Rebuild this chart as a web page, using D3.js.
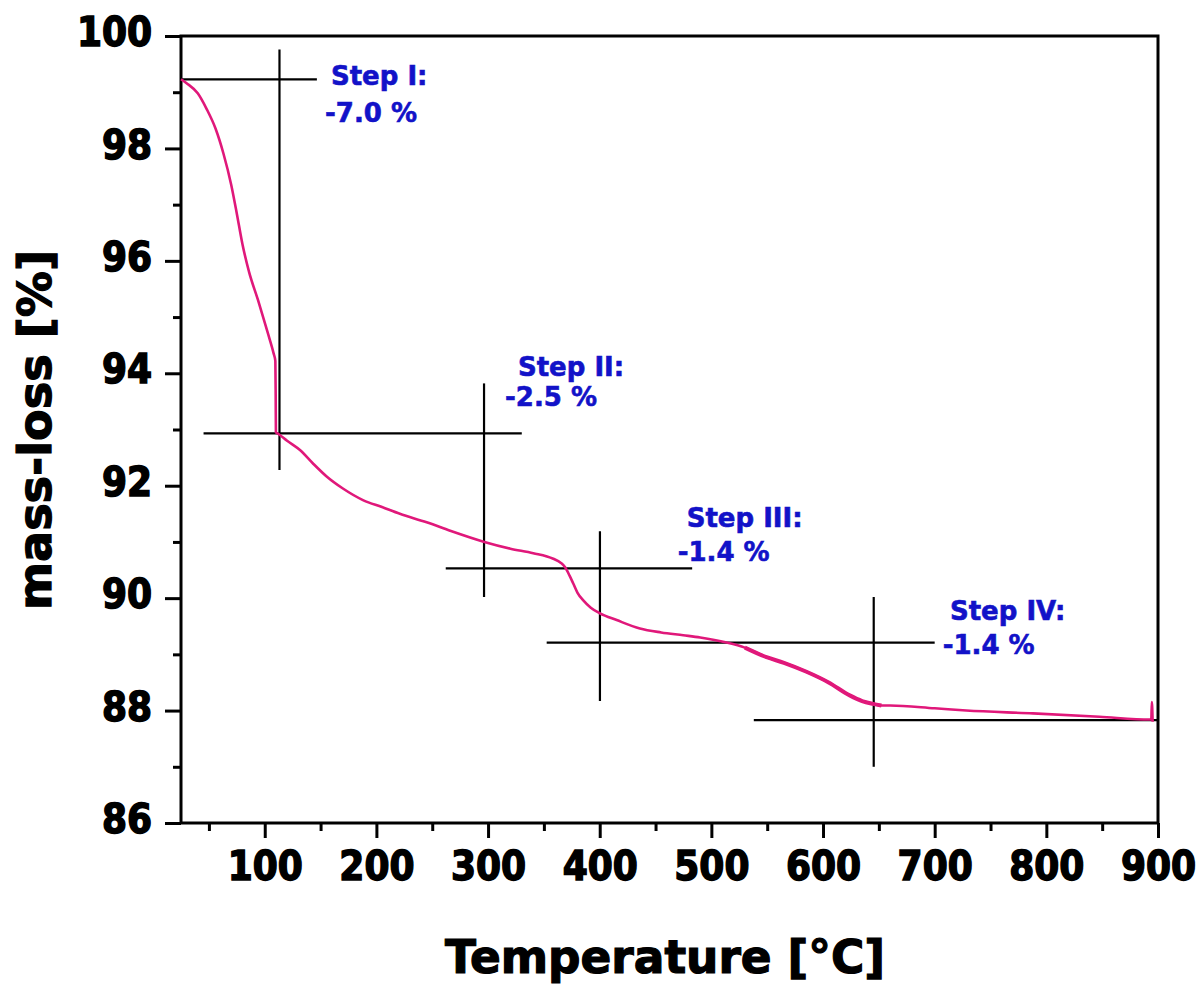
<!DOCTYPE html>
<html>
<head>
<meta charset="utf-8">
<script src="https://cdn.jsdelivr.net/npm/d3@7"></script>
<style>
  html, body { margin: 0; padding: 0; background: #fff; }
  svg { display: block; }
  .tick-label { font-family: "DejaVu Sans Condensed", "DejaVu Sans", sans-serif; font-weight: bold; font-stretch: condensed; }
  .axis-title { font-family: "DejaVu Sans", sans-serif; font-weight: bold; }
  .step-label { font-family: "DejaVu Sans", "Liberation Sans", sans-serif; font-weight: bold; }
</style>
</head>
<body>
<svg id="chart" width="1203" height="987"></svg>
<script>
// TGA curve: temperature (°C) and residual mass (%)
const temperature = [25, 30, 40, 48, 56, 63, 70, 75, 80, 86, 94, 103, 108, 109.5, 109.8, 110, 112.3, 120, 131.8, 143, 155.7, 170, 188.4, 205, 221, 245, 266, 296.7, 320, 340.5, 358.4, 365, 369, 373, 376.3, 380, 385.3, 392, 400.2, 415.2, 436, 455, 474.8, 490, 513.6, 530, 549.4, 565, 585.2, 605, 623.9, 635, 644.8, 652.3, 660, 700, 728.3, 788, 847.6, 893, 894, 894.5, 895.2];
const massPct     = [99.23, 99.16, 98.98, 98.70, 98.35, 97.91, 97.35, 96.84, 96.30, 95.80, 95.30, 94.70, 94.35, 94.22, 93.60, 92.95, 92.92, 92.80, 92.63, 92.40, 92.16, 91.95, 91.74, 91.62, 91.50, 91.35, 91.20, 91.00, 90.88, 90.80, 90.70, 90.63, 90.55, 90.40, 90.26, 90.10, 89.96, 89.83, 89.73, 89.61, 89.46, 89.39, 89.34, 89.30, 89.21, 89.12, 88.95, 88.85, 88.69, 88.50, 88.27, 88.17, 88.12, 88.09, 88.09, 88.04, 88.00, 87.95, 87.89, 87.84, 87.84, 88.15, 87.80];

// Tangent construction lines (data coordinates)
const hLevel = [99.23, 92.93, 90.53, 89.21, 87.83];
const hFrom  = [25, 45.2, 262.1, 352.5, 538];
const hTo    = [146.7, 330.2, 482.8, 700, 900];
const vTemp  = [113.2, 296.4, 400.2, 645.4];
const vFrom  = [99.76, 93.82, 91.19, 90.02];
const vTo    = [92.28, 90.02, 88.17, 87.00];

// Step annotations
const stepNames  = ["Step I:", "Step II:", "Step III:", "Step IV:"];
const stepLosses = ["-7.0 %", "-2.5 %", "-1.4 %", "-1.4 %"];
const stepNameAt = [[159.3, 99.13], [326.8, 93.95], [477.9, 91.27], [713.7, 89.61]];
const stepLossAt = [[154.0, 98.47], [315.2, 93.42], [469.8, 90.66], [707.2, 89.01]];

// Axis ticks
const xTicks = [100, 200, 300, 400, 500, 600, 700, 800, 900];
const xMinor = [50, 150, 250, 350, 450, 550, 650, 750, 850];
const yTicks = [86, 88, 90, 92, 94, 96, 98, 100];
const yMinor = [87, 89, 91, 93, 95, 97, 99];

const svg = d3.select("#chart");
const plotL = 181, plotR = 1158, plotT = 36, plotB = 823;

const x = d3.scaleLinear().domain([25, 900]).range([plotL, plotR]);
const y = d3.scaleLinear().domain([86, 100]).range([plotB, plotT]);

// Minor ticks
svg.append("g")
  .attr("transform", `translate(0,${plotB})`)
  .call(d3.axisBottom(x).tickValues(xMinor).tickSize(8).tickFormat(""))
  .call(g => g.select(".domain").remove())
  .call(g => g.selectAll("line").attr("stroke", "#000").attr("stroke-width", 3));
svg.append("g")
  .attr("transform", `translate(${plotL},0)`)
  .call(d3.axisLeft(y).tickValues(yMinor).tickSize(8).tickFormat(""))
  .call(g => g.select(".domain").remove())
  .call(g => g.selectAll("line").attr("stroke", "#000").attr("stroke-width", 3));

// Major ticks with labels
svg.append("g")
  .attr("transform", `translate(0,${plotB})`)
  .call(d3.axisBottom(x).tickValues(xTicks).tickSize(15).tickPadding(14).tickFormat(d3.format("d")))
  .call(g => g.select(".domain").remove())
  .call(g => g.selectAll("line").attr("stroke", "#000").attr("stroke-width", 3))
  .call(g => g.selectAll("text").attr("class", "tick-label").attr("font-size", 40)
    .attr("fill", "#000").attr("stroke", "#000").attr("stroke-width", 1.4));
svg.append("g")
  .attr("transform", `translate(${plotL},0)`)
  .call(d3.axisLeft(y).tickValues(yTicks).tickSize(16).tickPadding(13).tickFormat(d3.format("d")))
  .call(g => g.select(".domain").remove())
  .call(g => g.selectAll("line").attr("stroke", "#000").attr("stroke-width", 3))
  .call(g => g.selectAll("text").attr("class", "tick-label").attr("font-size", 40)
    .attr("fill", "#000").attr("stroke", "#000").attr("stroke-width", 1.4).attr("dy", "0.24em"));

// Frame
svg.append("rect")
  .attr("x", plotL).attr("y", plotT)
  .attr("width", plotR - plotL).attr("height", plotB - plotT)
  .attr("fill", "none").attr("stroke", "#000").attr("stroke-width", 3);

// Construction lines
const guides = svg.append("g").attr("stroke", "#000").attr("stroke-width", 2.2);
hLevel.forEach((lv, i) => {
  guides.append("line")
    .attr("x1", x(hFrom[i])).attr("x2", x(hTo[i]))
    .attr("y1", y(lv)).attr("y2", y(lv));
});
vTemp.forEach((t, i) => {
  guides.append("line")
    .attr("x1", x(t)).attr("x2", x(t))
    .attr("y1", y(vFrom[i])).attr("y2", y(vTo[i]));
});

// Mass curve
const pts = temperature.map((t, i) => [t, massPct[i]]);
const line = d3.line().x(d => x(d[0])).y(d => y(d[1])).curve(d3.curveMonotoneX);
svg.append("path")
  .attr("d", line(pts))
  .attr("fill", "none")
  .attr("stroke", "#e0187a")
  .attr("stroke-width", 2.6)
  .attr("stroke-linejoin", "round");
// noisier part of the trace drawn slightly heavier
svg.append("path")
  .attr("d", line(pts.filter(d => d[0] >= 520 && d[0] <= 656)))
  .attr("fill", "none")
  .attr("stroke", "#e0187a")
  .attr("stroke-width", 4)
  .attr("stroke-linejoin", "round");

// Step annotations
const ann = svg.append("g").attr("class", "step-label").attr("fill", "#1212c8")
  .attr("stroke", "#1212c8").attr("stroke-width", 0.6).attr("font-size", 26);
stepNames.forEach((s, i) => {
  ann.append("text").attr("x", x(stepNameAt[i][0])).attr("y", y(stepNameAt[i][1])).text(s);
  ann.append("text").attr("x", x(stepLossAt[i][0])).attr("y", y(stepLossAt[i][1])).text(stepLosses[i]);
});

// Axis titles
svg.append("text")
  .attr("class", "axis-title")
  .attr("x", 665).attr("y", 973)
  .attr("text-anchor", "middle")
  .attr("font-size", 46)
  .attr("textLength", 440).attr("lengthAdjust", "spacingAndGlyphs")
  .attr("stroke", "#000").attr("stroke-width", 1.2)
  .text("Temperature [°C]");
svg.append("text")
  .attr("class", "axis-title")
  .attr("transform", "translate(51,430) rotate(-90)")
  .attr("text-anchor", "middle")
  .attr("font-size", 46)
  .attr("textLength", 360).attr("lengthAdjust", "spacingAndGlyphs")
  .attr("stroke", "#000").attr("stroke-width", 1.2)
  .text("mass-loss [%]");
</script>
</body>
</html>
